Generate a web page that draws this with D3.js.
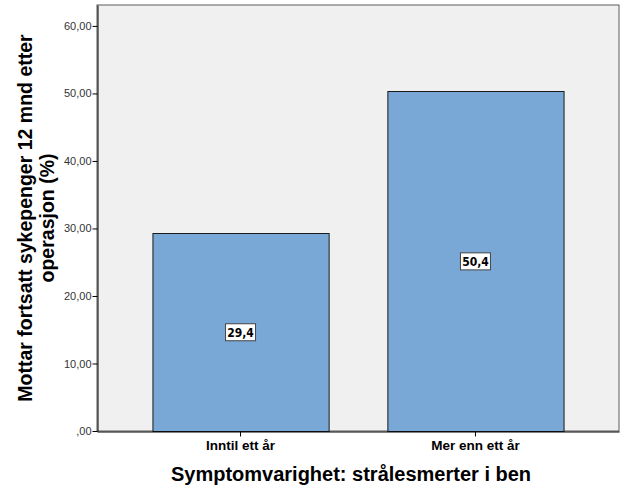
<!DOCTYPE html>
<html>
<head>
<meta charset="utf-8">
<script src="https://cdn.jsdelivr.net/npm/d3@7"></script>
<style>
  body { margin: 0; background: #fff; }
  svg { display: block; }
</style>
</head>
<body>
<svg id="chart" width="626" height="501"></svg>
<script>
// chart data
const categories = ["Inntil ett år", "Mer enn ett år"];
const values = [29.4, 50.4];
const yTicks = [0, 10, 20, 30, 40, 50, 60];

const svg = d3.select("#chart");
const plot = { left: 97, right: 619, top: 5, bottom: 431 };

const x = d3
  .scaleBand()
  .domain(categories)
  .range([plot.left, plot.right])
  .paddingInner(0.25)
  .paddingOuter(0.236);

const y = d3
  .scaleLinear()
  .domain([0, 63.1])
  .range([plot.bottom, plot.top]);

const fmt = (v) => (v === 0 ? ",00" : v.toFixed(2).replace(".", ","));

// plot background
svg
  .append("rect")
  .attr("x", plot.left)
  .attr("y", plot.top)
  .attr("width", plot.right - plot.left)
  .attr("height", plot.bottom - plot.top)
  .attr("fill", "#f0f0f0")
  .attr("stroke", "#5a5a5a")
  .attr("stroke-width", 1);

// bars
svg
  .selectAll(".bar")
  .data(values)
  .join("rect")
  .classed("bar", true)
  .attr("x", (d, i) => x(categories[i]) + 0.5)
  .attr("y", (d) => Math.round(y(d)) + 0.5)
  .attr("width", x.bandwidth())
  .attr("height", (d) => plot.bottom - Math.round(y(d)))
  .attr("fill", "#79a8d6")
  .attr("stroke", "#1a1a1a")
  .attr("stroke-width", 1);

// y axis
const yAxis = svg
  .append("g")
  .attr("transform", `translate(${plot.left + 0.5},0)`)
  .call(d3.axisLeft(y).tickValues(yTicks).tickFormat(fmt).tickSize(5).tickSizeOuter(0));
yAxis.select(".domain").attr("stroke", "#000");
yAxis.selectAll(".tick line").attr("stroke", "#000");
yAxis
  .selectAll(".tick text")
  .attr("font-family", "Arial, 'Liberation Sans', sans-serif")
  .attr("font-size", 11)
  .attr("fill", "#333")
  .attr("x", -6);

// x axis
const xAxis = svg
  .append("g")
  .attr("transform", `translate(0,${plot.bottom + 0.5})`)
  .call(d3.axisBottom(x).tickSize(5).tickSizeOuter(0));
xAxis.select(".domain").attr("stroke", "#000");
xAxis.selectAll(".tick line").attr("stroke", "#000");
xAxis
  .selectAll(".tick text")
  .attr("font-family", "Arial, 'Liberation Sans', sans-serif")
  .attr("font-size", 13.5)
  .attr("font-weight", "bold")
  .attr("fill", "#000")
  .attr("y", 9);

// value labels
const labels = svg
  .selectAll(".vlabel")
  .data(values)
  .join("g")
  .classed("vlabel", true)
  .attr("transform", (d, i) => `translate(${x(categories[i]) + x.bandwidth() / 2},${(y(d) + plot.bottom) / 2})`);
labels
  .append("rect")
  .attr("x", -15)
  .attr("y", -8)
  .attr("width", 30)
  .attr("height", 17)
  .attr("fill", "#fff")
  .attr("stroke", "#444");
labels
  .append("text")
  .attr("text-anchor", "middle")
  .attr("y", 5)
  .attr("font-family", "'DejaVu Sans Condensed', 'Liberation Sans Narrow', sans-serif")
  .attr("font-size", 12)
  .attr("font-weight", "bold")
  .text((d) => d.toFixed(1).replace(".", ","));

// axis titles
svg
  .append("text")
  .attr("x", (plot.left + plot.right) / 2 - 7)
  .attr("y", 481)
  .attr("text-anchor", "middle")
  .attr("font-family", "Arial, 'Liberation Sans', sans-serif")
  .attr("font-size", 20)
  .attr("font-weight", "bold")
  .text("Symptomvarighet: strålesmerter i ben");

const yTitle = svg
  .append("text")
  .attr("transform", "translate(0,218) rotate(-90)")
  .attr("text-anchor", "middle")
  .attr("font-family", "Arial, 'Liberation Sans', sans-serif")
  .attr("font-size", 19.5)
  .attr("font-weight", "bold");
yTitle.append("tspan").attr("x", 0).attr("y", 32).text("Mottar fortsatt sykepenger 12 mnd etter");
yTitle.append("tspan").attr("x", 0).attr("y", 54).text("operasjon (%)");
</script>
</body>
</html>
